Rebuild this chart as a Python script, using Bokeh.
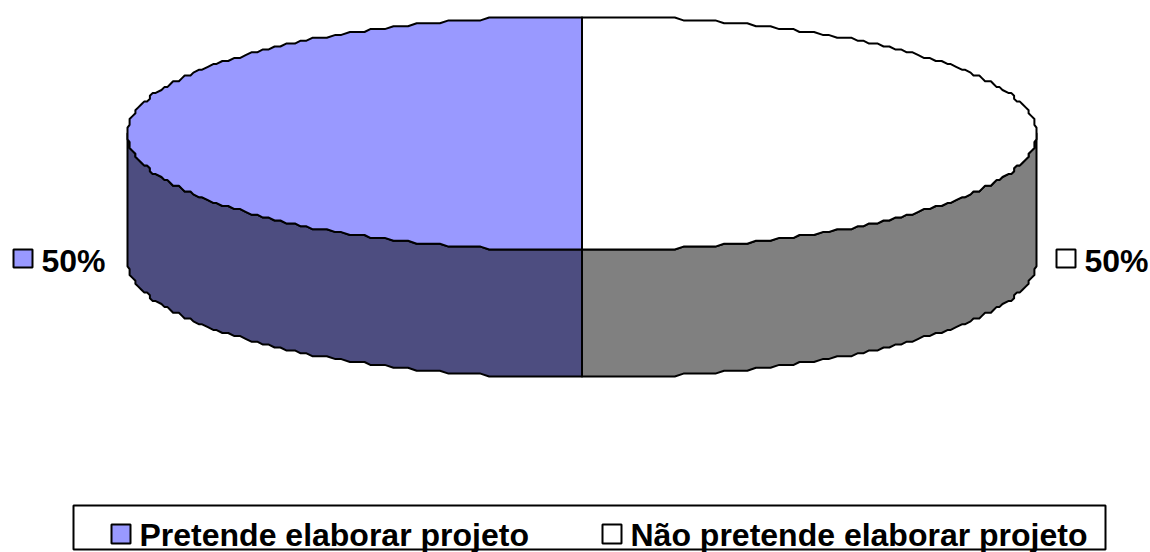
import numpy as np
from bokeh.plotting import figure
from bokeh.core.properties import value
from bokeh.embed import file_html
from bokeh.resources import INLINE

categories = ["Pretende elaborar projeto", "Não pretende elaborar projeto"]
shares = [50, 50]
labels = ["50%", "50%"]
top_colors = ["#9999FF", "#FFFFFF"]
side_colors = ["#4D4D80", "#808080"]

W, H = 1150, 552
FONT = value("Liberation Sans")
CX, CY, RX, RY, DEPTH = 581.5, 133, 454.5, 117, 127
GRID = 2.9

p = figure(width=W, height=H, x_range=(0, W), y_range=(H, 0),
           output_backend="svg", toolbar_location=None,
           min_border=0, outline_line_color=None)
p.axis.visible = False
p.grid.visible = False
p.background_fill_color = "white"


def arc(a0, a1, n=170):
    # angles clockwise from the top of the ellipse, in degrees
    t = np.radians(np.linspace(a0, a1, n))
    return CX + RX * np.sin(t), CY - RY * np.cos(t)


edges = np.cumsum([0] + shares) / sum(shares) * 360
# first share runs on the left side (counter-clockwise from top)
spans = [(360 - edges[1], 360), (0, 360 - edges[1])]

for (a0, a1), top, side in zip(spans, top_colors, side_colors):
    x, y = arc(a0, a1)
    x = np.clip(np.round((x - CX) / GRID) * GRID + CX, CX - RX, CX + RX)
    x = np.where(np.abs(x - CX) > RX - GRID / 2, CX + np.sign(x - CX) * RX, x)
    y = np.round((y - CY) / GRID) * GRID + CY
    # side wall: the part of the rim facing the viewer
    front = (np.cos(np.radians(np.linspace(a0, a1, len(x)))) <= 0.0)
    fx, fy = x[front], y[front]
    sx = np.concatenate([fx, fx[::-1]])
    sy = np.concatenate([fy, fy[::-1] + DEPTH])
    p.patch(sx, sy, fill_color=side, line_color="black", line_width=2, line_join="round")
    px = np.concatenate([[CX], x])
    py = np.concatenate([[CY], y])
    p.patch(px, py, fill_color=top, line_color="black", line_width=2, line_join="round")

# data labels
label_swatch_x = [13, 1056]
label_text_x = [41, 1084]
for sx0, tx, lab, col in zip(label_swatch_x, label_text_x, labels, top_colors):
    p.quad(left=sx0, right=sx0 + 19, top=249, bottom=267, fill_color=col,
           line_color="black", line_width=2)
    p.text([tx], [260], text=[lab], text_font=FONT, text_font_style="bold",
           text_font_size="32px", text_color="black", text_baseline="alphabetic")

# legend
p.quad(left=73, right=1105, top=505, bottom=549, fill_color="white",
       line_color="black", line_width=2)
legend_swatch_x = [111, 602]
legend_text_x = [139, 630]
for sx0, tx, cat, col in zip(legend_swatch_x, legend_text_x, categories, top_colors):
    p.quad(left=sx0, right=sx0 + 19, top=524, bottom=543, fill_color=col,
           line_color="black", line_width=2)
    p.text([tx], [534], text=[cat], text_font=FONT, text_font_style="bold",
           text_font_size="32px", text_color="black", text_baseline="alphabetic")

open("out.html", "w").write(file_html(p, INLINE))
